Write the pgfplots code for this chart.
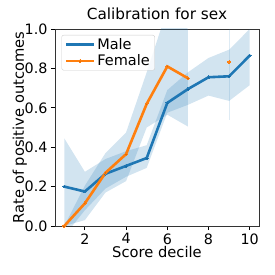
\documentclass[border=0pt]{standalone}
\usepackage{pgfplots}
\pgfplotsset{compat=1.18}
\usepackage{fontspec}
\setmainfont{DejaVu Sans}
\definecolor{czero}{HTML}{1F77B4}
\definecolor{cone}{HTML}{FF7F0E}
\begin{document}
\begin{tikzpicture}
\begin{axis}[
  at={(0,0)}, anchor=south west,
  scale only axis, width=204pt, height=197pt,
  xmin=0.55, xmax=10.45, ymin=0, ymax=1,
  xtick={2,4,6,8,10}, ytick={0,0.2,0.4,0.6,0.8,1.0},
  yticklabel style={/pgf/number format/.cd,fixed,fixed zerofill,precision=1},
  /pgf/number format/assume math mode=true,
  tick label style={font=\fontsize{14.3}{16}\selectfont, text=black},
  tick align=outside, xtick pos=lower, ytick pos=left,
  major tick length=4pt,
  every tick/.style={black, line width=0.8pt},
  axis line style={line width=0.8pt, black!80},
  title={Calibration for sex},
  title style={font=\fontsize{15.3}{17}\selectfont, at={(axis description cs:0.5,1.02)}, anchor=base},
  xlabel={Score decile},
  ylabel={Rate of positive outcomes},
  label style={font=\fontsize{14.7}{17}\selectfont},
  xlabel style={at={(axis description cs:0.5,-0.162)}, anchor=base},
  ylabel style={at={(axis description cs:-0.172,0.5)}, anchor=center},
  legend style={at={(0,1)}, anchor=north west, xshift=6.5pt, yshift=-6pt,
    font=\fontsize{14.5}{16}\selectfont, rounded corners=2pt, draw=black!20,
    fill=white, fill opacity=0.8, text opacity=1, inner xsep=3pt, inner ysep=1pt,
    row sep=0pt},
  legend cell align=left,
  legend image code/.code={\draw[mark repeat=2,mark phase=2] plot coordinates {(0pt,0pt)(14pt,0pt)(28pt,0pt)};},
]
% Male band
\addplot[fill=czero, fill opacity=0.2, draw=none, forget plot] coordinates {
(1,0.445)(2,0.275)(3,0.34)(4,0.38)(5,0.41)(6,0.69)(7,0.78)(8,0.853)(9,0.895)(10,1.0)
(10,0.715)(9,0.635)(8,0.662)(7,0.615)(6,0.575)(5,0.295)(4,0.25)(3,0.19)(2,0.08)(1,-0.05)} -- cycle;
% Female band
\addplot[fill=czero, fill opacity=0.2, draw=none, forget plot] coordinates {
(1,0.0)(2,0.205)(3,0.37)(4,0.475)(5,0.78)(6,1.1)(7,1.0)
(7,0.505)(6,0.565)(5,0.50)(4,0.228)(3,0.17)(2,0.03)(1,0.0)} -- cycle;
\addplot[draw=czero, draw opacity=0.15, line width=0.4pt, forget plot] coordinates {(9,0.54)(9,1.0)};
% Male
\addplot[czero, line width=2.6pt, mark=*, mark size=1.4pt, mark options={line width=0pt, fill=czero!85!black}] coordinates {
(1,0.200)(2,0.175)(3,0.265)(4,0.305)(5,0.345)(6,0.625)(7,0.695)(8,0.755)(9,0.760)(10,0.865)};
\addlegendentry{Male}
% Female
\addplot[cone, line width=2.6pt, mark=*, mark size=1.4pt, mark options={line width=0pt, fill=cone!85!black}] coordinates {
(1,0.0)(2,0.115)(3,0.27)(4,0.365)(5,0.62)(6,0.81)(7,0.75)};
\addlegendentry{Female}
\addplot[cone, only marks, mark=*, mark size=1.5pt, mark options={line width=0pt}, forget plot] coordinates {(9,0.833)};
\end{axis}
\pgfresetboundingbox
\useasboundingbox (-55pt,-49pt) rectangle (220pt,226pt);
\end{tikzpicture}
\end{document}
